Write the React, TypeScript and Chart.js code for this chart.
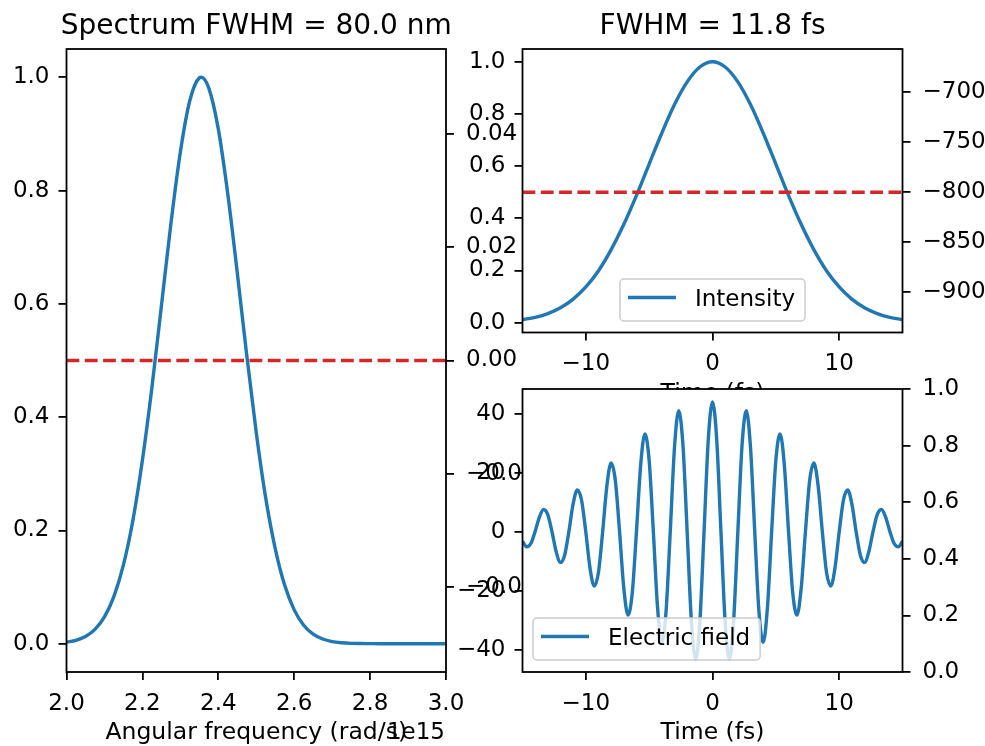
import React, { useEffect, useRef } from 'react';
import { Chart, registerables } from 'chart.js';

Chart.register(...registerables);

// ---------------- data ----------------
// Spectrum (angular frequency in units of 1e15 rad/s)
const omegaE15 = [
  2.0, 2.025, 2.05, 2.075, 2.1, 2.125, 2.15, 2.175, 2.2, 2.225, 2.25, 2.275, 2.3, 2.325, 2.35, 2.355,
  2.375, 2.4, 2.425, 2.45, 2.475, 2.5, 2.525, 2.55, 2.575, 2.6, 2.625, 2.65, 2.675, 2.7, 2.725,
  2.75, 2.775, 2.8, 2.825, 2.85, 2.875, 2.9, 2.925, 2.95, 2.975, 3.0,
];
const spectrum = [
  0.0027, 0.006, 0.0127, 0.0252, 0.0472, 0.0834, 0.139, 0.218, 0.324, 0.452, 0.596, 0.741, 0.868, 0.959, 0.999, 1.0,
  0.981, 0.909, 0.794, 0.655, 0.509, 0.373, 0.257, 0.168, 0.103, 0.0597, 0.0326, 0.0168, 0.0082, 0.0037, 0.0016,
  0.0006, 0.0002, 0.0001, 0, 0, 0, 0, 0, 0, 0, 0,
];
const halfMaximum = 0.5;

// Temporal intensity
const intensityTime = [
  -15, -14, -13, -12, -11, -10, -9, -8, -7, -6, -5, -4, -3, -2, -1, 0,
  1, 2, 3, 4, 5, 6, 7, 8, 9, 10, 11, 12, 13, 14, 15,
];
const intensity = [
  0.0113, 0.0202, 0.0346, 0.0569, 0.0899, 0.1365, 0.199, 0.28, 0.377, 0.488, 0.608, 0.727, 0.836, 0.923, 0.98, 1.0,
  0.98, 0.923, 0.836, 0.727, 0.608, 0.488, 0.377, 0.28, 0.199, 0.1365, 0.0899, 0.0569, 0.0346, 0.0202, 0.0113,
];

// Electric field
const fieldTime = [
  -15.0, -14.674, -14.341, -14.007, -13.674, -13.34, -13.007, -12.673, -12.34, -12.006, -11.673, -11.339,
  -11.006, -10.672, -10.339, -10.005, -9.672, -9.338, -9.005, -8.671, -8.338, -8.004, -7.671, -7.337,
  -7.004, -6.67, -6.337, -6.003, -5.67, -5.336, -5.003, -4.669, -4.336, -4.002, -3.669, -3.335,
  -3.002, -2.668, -2.335, -2.001, -1.668, -1.334, -1.001, -0.667, -0.334, 0,
  0.334, 0.667, 1.001, 1.334, 1.668, 2.001, 2.335, 2.668, 3.002, 3.335, 3.669, 4.002,
  4.336, 4.669, 5.003, 5.336, 5.67, 6.003, 6.337, 6.67, 7.004, 7.337, 7.671, 8.004,
  8.338, 8.671, 9.005, 9.338, 9.672, 10.005, 10.339, 10.672, 11.006, 11.339, 11.673, 12.006,
  12.34, 12.673, 13.007, 13.34, 13.674, 14.007, 14.341, 14.674, 15.0,
];
const fieldValue = [
  -3.3, -5.16, -4.02, 0, 4.84, 7.48, 5.77, 0, -6.83, -10.48, -8.01, 0,
  9.32, 14.16, 10.73, 0, -12.26, -18.47, -13.88, 0, 15.57, 23.25, 17.32, 0,
  -19.09, -28.26, -20.86, 0, 22.59, 33.14, 24.25, 0, -25.8, -37.51, -27.21, 0,
  28.44, 40.99, 29.47, 0, -30.26, -43.23, -30.8, 0, 31.08, 44.0,
  31.08, 0, -30.8, -43.23, -30.26, 0, 29.47, 40.99, 28.44, 0, -27.21, -37.51,
  -25.8, 0, 24.25, 33.14, 22.59, 0, -20.86, -28.26, -19.09, 0, 17.32, 23.25,
  15.57, 0, -13.88, -18.47, -12.26, 0, 10.73, 14.16, 9.32, 0, -8.01, -10.48,
  -6.83, 0, 5.77, 7.48, 4.84, 0, -4.02, -5.16, -3.3,
];

// Tick labels / axis ticks
const spectrumXTicks = [2.0, 2.2, 2.4, 2.6, 2.8, 3.0];
const unitYTicks = [0.0, 0.2, 0.4, 0.6, 0.8, 1.0];
const spectrumTwinTicks = [-0.04, -0.02, 0.0, 0.02, 0.04];
const timeTicks = [-10, 0, 10];
const phaseTicks = [-900, -850, -800, -750, -700];
const fieldTicks = [-40, -20, 0, 20, 40];

// ---------------- styling ----------------
const W = 985;
const H = 746;
const FAMILY = '"DejaVu Sans", sans-serif';
const TICK_PX = 23;
const TITLE_PX = 28;
const LABEL_PX = 23.5;
const BLUE = '#1f77b4';
const RED = '#d62728';
const LW = 3.4;
const SPINE = 1.8;
const AXIS_H = 56;

type Rect = { l: number; t: number; r: number; b: number };

const fmt = (v: number, d: number) => v.toFixed(d).replace('-', '\u2212');

function yScale(position: 'left' | 'right', min: number, max: number, ticks: number[], dec: number, width: number) {
  return {
    type: 'linear',
    position,
    min,
    max,
    bounds: 'data',
    afterBuildTicks: (s: any) => {
      s.ticks = ticks.map((v) => ({ value: v }));
    },
    afterFit: (s: any) => {
      s.width = width;
    },
    grid: { display: true, drawOnChartArea: false, drawTicks: true, tickLength: 8, color: '#000', lineWidth: SPINE },
    border: { display: false },
    ticks: {
      autoSkip: false,
      padding: position === 'left' ? 9 : 12,
      color: '#000',
      font: { family: FAMILY, size: TICK_PX },
      callback: (v: any) => fmt(Number(v), dec),
    },
  };
}

function xScale(min: number, max: number, ticks: number[], dec: number) {
  return {
    type: 'linear',
    position: 'bottom',
    min,
    max,
    bounds: 'data',
    afterBuildTicks: (s: any) => {
      s.ticks = ticks.map((v) => ({ value: v }));
    },
    afterFit: (s: any) => {
      s.height = AXIS_H;
    },
    grid: { display: true, drawOnChartArea: false, drawTicks: true, tickLength: 8, color: '#000', lineWidth: SPINE },
    border: { display: false },
    ticks: {
      autoSkip: false,
      maxRotation: 0,
      padding: 10,
      color: '#000',
      font: { family: FAMILY, size: TICK_PX },
      callback: (v: any) => fmt(Number(v), dec),
    },
  };
}

type Decor = {
  title?: string;
  xlabel?: string;
  offsetText?: string;
  legend?: { label: string; loc: 'lower center' | 'lower left' };
  whiteFace?: boolean;
};

function decorPlugin(id: string, d: Decor) {
  return {
    id,
    beforeDraw(chart: any) {
      if (!d.whiteFace) return;
      const { ctx, chartArea: a } = chart;
      ctx.save();
      ctx.fillStyle = '#ffffff';
      ctx.fillRect(a.left, a.top, a.right - a.left, a.bottom - a.top);
      ctx.restore();
    },
    afterDraw(chart: any) {
      const { ctx, chartArea: a } = chart;
      ctx.save();
      // legend
      if (d.legend) {
        ctx.font = `${TICK_PX}px ${FAMILY}`;
        const tw = ctx.measureText(d.legend.label).width;
        const bw = 75 + tw + 10;
        const bh = 42;
        let x: number;
        let y: number;
        if (d.legend.loc === 'lower center') {
          x = (a.left + a.right) / 2 - bw / 2;
          y = a.bottom - 11.5 - bh;
        } else {
          x = a.left + 10.5;
          y = a.bottom - 12 - bh;
        }
        ctx.beginPath();
        ctx.roundRect(x, y, bw, bh, 4);
        ctx.fillStyle = 'rgba(255,255,255,0.8)';
        ctx.fill();
        ctx.strokeStyle = '#cccccc';
        ctx.lineWidth = 1.5;
        ctx.stroke();
        const ly = y + 18.5;
        ctx.beginPath();
        ctx.moveTo(x + 8, ly);
        ctx.lineTo(x + 56, ly);
        ctx.strokeStyle = BLUE;
        ctx.lineWidth = LW;
        ctx.stroke();
        ctx.fillStyle = '#000';
        ctx.textAlign = 'left';
        ctx.textBaseline = 'alphabetic';
        ctx.fillText(d.legend.label, x + 75, ly + 8.4);
      }
      // spines
      ctx.strokeStyle = '#000';
      ctx.lineWidth = SPINE;
      ctx.strokeRect(a.left, a.top, a.right - a.left, a.bottom - a.top);
      // texts
      ctx.fillStyle = '#000';
      ctx.textBaseline = 'alphabetic';
      if (d.title) {
        ctx.font = `${TITLE_PX}px ${FAMILY}`;
        ctx.textAlign = 'center';
        ctx.fillText(d.title, (a.left + a.right) / 2, a.top - 15);
      }
      if (d.xlabel) {
        ctx.font = `${LABEL_PX}px ${FAMILY}`;
        ctx.textAlign = 'center';
        ctx.fillText(d.xlabel, (a.left + a.right) / 2, a.bottom + 67);
      }
      if (d.offsetText) {
        ctx.font = `${TICK_PX}px ${FAMILY}`;
        ctx.textAlign = 'right';
        ctx.fillText(d.offsetText, a.right - 1, a.bottom + 67);
      }
      ctx.restore();
    },
  };
}

function baseOptions(r: Rect, wl: number, wr: number, scales: any) {
  return {
    responsive: false,
    animation: false,
    devicePixelRatio: 1,
    events: [],
    layout: { padding: { left: r.l - wl, top: r.t, right: W - r.r - wr, bottom: H - r.b - AXIS_H } },
    plugins: { legend: { display: false }, tooltip: { enabled: false }, title: { display: false } },
    scales,
  };
}

const RECT_SPEC: Rect = { l: 66.5, t: 49, r: 446, b: 672 };
const RECT_INT: Rect = { l: 522.5, t: 49, r: 902.5, b: 332.5 };
const RECT_FIELD: Rect = { l: 522.5, t: 389, r: 902.5, b: 672 };

function spectrumConfig(): any {
  const xMin = spectrumXTicks[0];
  const xMax = spectrumXTicks[spectrumXTicks.length - 1];
  return {
    type: 'line',
    data: {
      datasets: [
        {
          data: [
            { x: xMin, y: halfMaximum },
            { x: xMax, y: halfMaximum },
          ],
          borderColor: RED,
          borderWidth: LW,
          borderDash: [12.8, 5.5],
          pointRadius: 0,
          yAxisID: 'y',
        },
        {
          data: omegaE15.map((x, i) => ({ x, y: spectrum[i] })),
          borderColor: BLUE,
          borderWidth: LW,
          borderJoinStyle: 'round',
          pointRadius: 0,
          cubicInterpolationMode: 'monotone',
          yAxisID: 'y',
        },
      ],
    },
    options: baseOptions(RECT_SPEC, 66, 120, {
      x: xScale(xMin, xMax, spectrumXTicks, 1),
      y: yScale('left', -0.05, 1.05, unitYTicks, 1, 66),
      y2: yScale('right', -0.055, 0.055, spectrumTwinTicks, 2, 120),
    }),
    plugins: [
      decorPlugin('decorSpec', {
        title: 'Spectrum FWHM = 80.0 nm',
        xlabel: 'Angular frequency (rad/s)',
        offsetText: '1e15',
      }),
    ],
  };
}

function intensityConfig(): any {
  return {
    type: 'line',
    data: {
      datasets: [
        {
          data: [
            { x: -15, y: halfMaximum },
            { x: 15, y: halfMaximum },
          ],
          borderColor: RED,
          borderWidth: LW,
          borderDash: [12.8, 5.5],
          pointRadius: 0,
          yAxisID: 'y',
        },
        {
          data: intensityTime.map((x, i) => ({ x, y: intensity[i] })),
          borderColor: BLUE,
          borderWidth: LW,
          borderJoinStyle: 'round',
          pointRadius: 0,
          cubicInterpolationMode: 'monotone',
          yAxisID: 'y',
        },
      ],
    },
    options: baseOptions(RECT_INT, 100, 82, {
      x: xScale(-15, 15, timeTicks, 0),
      y: yScale('left', -0.038, 1.049, unitYTicks, 1, 100),
      y2: yScale('right', -941, -657, phaseTicks, 0, 82),
    }),
    plugins: [
      decorPlugin('decorInt', {
        title: 'FWHM = 11.8 fs',
        xlabel: 'Time (fs)',
        legend: { label: 'Intensity', loc: 'lower center' },
      }),
    ],
  };
}

function fieldConfig(): any {
  return {
    type: 'line',
    data: {
      datasets: [
        {
          data: fieldTime.map((x, i) => ({ x, y: fieldValue[i] })),
          borderColor: BLUE,
          borderWidth: LW,
          borderJoinStyle: 'round',
          pointRadius: 0,
          cubicInterpolationMode: 'monotone',
          yAxisID: 'y',
        },
      ],
    },
    options: baseOptions(RECT_FIELD, 100, 82, {
      x: xScale(-15, 15, timeTicks, 0),
      y: yScale('left', -47.59, 48.36, fieldTicks, 0, 100),
      y2: yScale('right', 0, 1, unitYTicks, 1, 82),
    }),
    plugins: [
      decorPlugin('decorField', {
        xlabel: 'Time (fs)',
        legend: { label: 'Electric field', loc: 'lower left' },
        whiteFace: true,
      }),
    ],
  };
}

function ChartCanvas({ makeConfig, z }: { makeConfig: () => any; z: number }) {
  const ref = useRef<HTMLCanvasElement | null>(null);
  useEffect(() => {
    if (!ref.current) return;
    const chart = new Chart(ref.current, makeConfig());
    return () => chart.destroy();
  }, [makeConfig]);
  return (
    <canvas
      ref={ref}
      width={W}
      height={H}
      style={{ position: 'absolute', left: 0, top: 0, width: W, height: H, zIndex: z }}
    />
  );
}

export default function App() {
  return (
    <div style={{ position: 'absolute', left: 0, top: 0, width: W, height: H, background: '#ffffff', overflow: 'hidden' }}>
      <ChartCanvas makeConfig={spectrumConfig} z={1} />
      <ChartCanvas makeConfig={intensityConfig} z={2} />
      <ChartCanvas makeConfig={fieldConfig} z={3} />
    </div>
  );
}
